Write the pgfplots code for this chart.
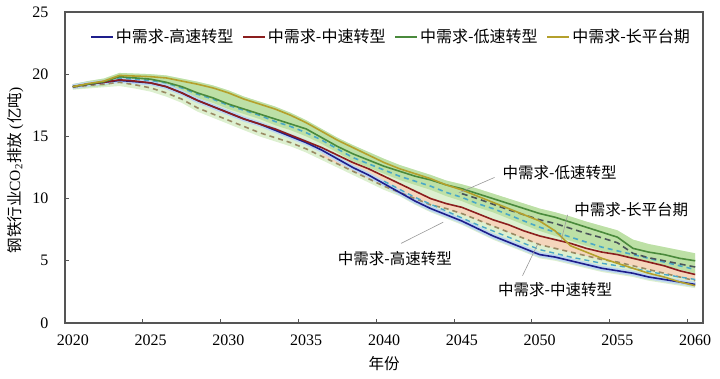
\documentclass[border=0pt]{standalone}
\usepackage{pgfplots}
\pgfplotsset{compat=1.18}
\usepackage{pgfplotstable}
\usepackage{fontspec}
\setmainfont{Liberation Serif}
\newfontfamily\cjk{Noto Sans CJK SC}
\definecolor{cblue}{HTML}{1E1E8C}
\definecolor{cred}{HTML}{8B1E1E}
\definecolor{cgreen}{HTML}{4A8A3C}
\definecolor{colive}{HTML}{B4A02C}
\definecolor{cteal}{HTML}{4AA8C8}
\definecolor{cbrown}{HTML}{9A8A64}
\definecolor{cdark}{HTML}{4A545A}
\definecolor{bandg}{HTML}{BDE0A6}
\definecolor{bandl}{HTML}{DDF0D0}
\definecolor{bands}{HTML}{F5D6BC}
\definecolor{glow}{HTML}{BCD6F0}
\definecolor{frame}{HTML}{555555}

\pgfplotstableread{
year olive green teal red blue brown
2020 19.00 19.00 19.00 19.00 19.00 18.95
2021 19.25 19.20 19.20 19.20 19.20 19.10
2022 19.45 19.40 19.35 19.35 19.35 19.20
2023 19.90 19.80 19.70 19.55 19.50 19.35
2024 19.85 19.70 19.60 19.45 19.40 19.15
2025 19.80 19.60 19.50 19.30 19.30 18.90
2026 19.70 19.35 19.30 19.00 19.00 18.50
2027 19.45 19.00 18.90 18.50 18.50 18.00
2028 19.20 18.50 18.40 17.90 17.90 17.30
2029 18.90 18.10 18.00 17.40 17.40 16.80
2030 18.50 17.60 17.50 16.90 16.90 16.30
2031 18.00 17.20 17.10 16.40 16.40 15.80
2032 17.60 16.80 16.70 16.00 16.00 15.30
2033 17.20 16.40 16.20 15.60 15.50 14.90
2034 16.70 16.00 15.80 15.10 15.00 14.50
2035 16.10 15.60 15.30 14.60 14.50 14.00
2036 15.40 14.90 14.70 14.10 13.90 13.40
2037 14.70 14.20 14.00 13.50 13.20 12.80
2038 14.10 13.60 13.30 12.90 12.50 12.20
2039 13.50 13.10 12.80 12.40 11.90 11.60
2040 12.90 12.60 12.30 11.80 11.20 11.00
2041 12.40 12.20 11.80 11.20 10.50 10.50
2042 12.00 11.80 11.40 10.60 9.80 10.00
2043 11.60 11.50 11.00 10.00 9.20 9.50
2044 11.10 11.10 10.50 9.60 8.70 9.20
2045 10.70 10.80 10.10 9.30 8.20 8.80
2046 10.20 10.40 9.60 8.80 7.60 8.30
2047 9.70 10.00 9.20 8.30 7.00 7.80
2048 9.20 9.60 8.70 7.90 6.50 7.30
2049 8.70 9.20 8.20 7.40 6.00 6.80
2050 8.20 8.80 7.70 7.00 5.50 6.30
2051 7.40 8.50 7.30 6.70 5.30 6.00
2052 6.20 8.10 6.90 6.40 5.00 5.70
2053 5.70 7.70 6.50 6.00 4.70 5.40
2054 5.20 7.30 6.10 5.70 4.40 5.10
2055 4.80 6.90 5.80 5.50 4.20 4.90
2056 4.40 6.00 5.50 5.20 4.00 4.60
2057 4.00 5.70 5.20 4.90 3.70 4.30
2058 3.70 5.50 4.90 4.60 3.50 4.00
2059 3.30 5.20 4.60 4.20 3.30 3.70
2060 3.00 5.00 4.30 3.90 3.10 3.40
}\main

\pgfplotstableread{
year val
2045 10.40
2046 10.00
2047 9.55
2048 9.10
2049 8.70
2050 8.30
2051 8.00
2052 7.60
2053 7.20
2054 6.85
2055 6.45
2056 5.60
2057 5.25
2058 5.00
2059 4.75
2060 4.50
}\updash

\pgfplotstableread{
year val
2040 11.40
2042 10.10
2044 9.00
2046 7.90
2048 6.90
2050 5.90
2052 5.30
2054 4.80
2056 4.40
2058 3.90
2060 3.50
}\lowdash

\begin{document}
\begin{tikzpicture}
\draw[frame, line width=1.2pt] (0pt,0pt) rectangle (638pt,311pt);
\begin{axis}[
  at={(0pt,0pt)}, anchor=south west,
  scale only axis, width=638pt, height=311pt,
  xmin=2019.5, xmax=2060.5, ymin=0, ymax=25,
  xtick={2019.5,2024.5,2029.5,2034.5,2039.5,2044.5,2049.5,2054.5,2059.5},
  xticklabels={2020,2025,2030,2035,2040,2045,2050,2055,2060},
  ytick={0,5,10,15,20,25},
  clip=false,
  tick pos=left, tick align=inside, major tick length=4pt,
  tick style={frame, line width=1pt},
  axis line style={frame, line width=1pt},
  /pgf/number format/assume math mode=true,
  xticklabel style={font=\fontsize{16}{18}\selectfont, xshift=7.8pt, yshift=-8pt},
  yticklabel style={font=\fontsize{16}{18}\selectfont, xshift=-13pt},
  xlabel={\cjk 年份},
  xlabel style={font=\fontsize{15.5}{18}\selectfont, at={(axis description cs:0.5,0)}, anchor=center, yshift=-41pt},
  ylabel={{\cjk 钢铁行业}CO\textsubscript{2}{\cjk 排放} ({\cjk 亿吨})},
  ylabel style={font=\fontsize{15.5}{18}\selectfont, at={(axis description cs:-0.078,0.49)}, anchor=center},
  legend columns=4,
  legend style={draw=none, fill=none, at={(axis description cs:0.511,0.92)}, anchor=center,
    font=\fontsize{16}{18}\selectfont\cjk,
    /tikz/every even column/.append style={column sep=7pt}},
  legend image code/.code={\draw[#1] (0pt,0pt) -- (22pt,0pt);},
]
\addplot[fill=bandl, draw=none, forget plot] coordinates {
(2020,19.20)(2021,19.45)(2022,19.65)(2023,20.10)(2024,20.05)(2025,20.00)(2026,19.90)(2027,19.65)(2028,19.40)(2029,19.10)(2030,18.70)(2031,18.20)(2032,17.80)(2033,17.40)(2034,16.90)(2035,16.30)(2036,15.60)(2037,14.90)(2038,14.30)(2039,13.75)(2040,13.20)(2041,12.70)(2042,12.30)(2043,11.90)(2044,11.45)(2045,11.15)(2046,10.80)(2047,10.40)(2048,10.00)(2049,9.60)(2050,9.20)(2051,8.90)(2052,8.55)(2053,8.15)(2054,7.80)(2055,7.45)(2056,6.70)(2057,6.35)(2058,6.10)(2059,5.85)(2060,5.60)
(2060,2.80)(2059,3.00)(2058,3.20)(2057,3.40)(2056,3.70)(2055,3.90)(2054,4.10)(2053,4.40)(2052,4.70)(2051,5.00)(2050,5.20)(2049,5.70)(2048,6.20)(2047,6.70)(2046,7.30)(2045,7.90)(2044,8.40)(2043,8.90)(2042,9.50)(2041,10.20)(2040,10.70)(2039,11.30)(2038,11.90)(2037,12.50)(2036,13.10)(2035,13.70)(2034,14.20)(2033,14.60)(2032,15.00)(2031,15.50)(2030,16.00)(2029,16.50)(2028,17.00)(2027,17.70)(2026,18.20)(2025,18.60)(2024,18.85)(2023,19.05)(2022,18.95)(2021,18.85)(2020,18.75)
};
\addplot[fill=bandg, draw=none, forget plot] coordinates {
(2020,19.20)(2021,19.45)(2022,19.65)(2023,20.10)(2024,20.05)(2025,20.00)(2026,19.90)(2027,19.65)(2028,19.40)(2029,19.10)(2030,18.70)(2031,18.20)(2032,17.80)(2033,17.40)(2034,16.90)(2035,16.30)(2036,15.60)(2037,14.90)(2038,14.30)(2039,13.75)(2040,13.20)(2041,12.70)(2042,12.30)(2043,11.90)(2044,11.45)(2045,11.15)(2046,10.80)(2047,10.40)(2048,10.00)(2049,9.60)(2050,9.20)(2051,8.90)(2052,8.55)(2053,8.15)(2054,7.80)(2055,7.45)(2056,6.70)(2057,6.35)(2058,6.10)(2059,5.85)(2060,5.60)
(2060,4.00)(2059,4.30)(2058,4.60)(2057,4.90)(2056,5.20)(2055,5.50)(2054,5.80)(2053,6.20)(2052,6.60)(2051,7.00)(2050,7.40)(2049,7.90)(2048,8.40)(2047,8.90)(2046,9.30)(2045,9.80)(2044,10.20)(2043,10.70)(2042,11.10)(2041,11.50)(2040,12.00)(2039,12.50)(2038,13.00)(2037,13.70)(2036,14.40)(2035,15.00)(2034,15.50)(2033,15.90)(2032,16.40)(2031,16.80)(2030,17.20)(2029,17.70)(2028,18.10)(2027,18.60)(2026,19.00)(2025,19.20)(2024,19.30)(2023,19.40)(2022,19.05)(2021,18.95)(2020,18.80)
};
\addplot[fill=bands, draw=none, forget plot] coordinates {
(2036,14.10)(2038,12.90)(2040,11.80)(2042,10.60)(2044,9.60)(2046,8.80)(2048,7.90)(2050,7.00)(2052,6.40)(2054,5.70)(2056,5.20)(2058,4.60)(2060,3.90)
(2060,3.40)(2058,4.00)(2056,4.60)(2054,5.10)(2052,5.70)(2050,6.30)(2048,7.30)(2046,8.30)(2044,9.20)(2042,10.00)(2040,11.00)(2038,12.20)(2036,13.40)
};
\addplot[glow, line width=5pt, forget plot] table[x=year, y=blue] {\main};
\addplot[cbrown, line width=1.6pt, dash pattern=on 5pt off 4pt, forget plot] table[x=year, y=brown] {\main};
\addplot[cteal, line width=1.6pt, dash pattern=on 5pt off 4pt, forget plot] table[x=year, y=teal] {\main};
\addplot[cteal, line width=1.4pt, dash pattern=on 5pt off 4pt, forget plot] table[x=year, y=val] {\lowdash};
\addplot[cdark, line width=1.6pt, dash pattern=on 6pt off 4pt, forget plot] table[x=year, y=val] {\updash};
\addplot[cblue, line width=1.6pt] table[x=year, y=blue] {\main};
\addlegendentry{中需求-高速转型}
\addplot[cred, line width=1.6pt] table[x=year, y=red] {\main};
\addlegendentry{中需求-中速转型}
\addplot[cgreen, line width=1.6pt] table[x=year, y=green] {\main};
\addlegendentry{中需求-低速转型}
\addplot[colive, line width=1.6pt] table[x=year, y=olive] {\main};
\addlegendentry{中需求-长平台期}
\draw[gray!80, line width=0.6pt] (axis cs:2047.1,11.7) -- (axis cs:2044.8,10.45);
\node[font=\fontsize{15.5}{18}\selectfont\cjk, anchor=west] at (axis cs:2047.4,12.1) {中需求-低速转型};
\draw[gray!80, line width=0.6pt] (axis cs:2051.8,8.7) -- (axis cs:2051.4,6.7);
\node[font=\fontsize{15.5}{18}\selectfont\cjk, anchor=west] at (axis cs:2052.0,9.1) {中需求-长平台期};
\draw[gray!80, line width=0.6pt] (axis cs:2041.1,6.4) -- (axis cs:2043.8,8.1);
\node[font=\fontsize{15.5}{18}\selectfont\cjk, anchor=center] at (axis cs:2040.7,5.2) {中需求-高速转型};
\draw[gray!80, line width=0.6pt] (axis cs:2048.9,3.8) -- (axis cs:2049.9,6.4);
\node[font=\fontsize{15.5}{18}\selectfont\cjk, anchor=center] at (axis cs:2051.0,2.65) {中需求-中速转型};
\end{axis}
\draw[frame, line width=1.2pt] (0pt,311pt) -- (638pt,311pt) -- (638pt,0pt);
\path (-65pt,-55pt) rectangle (655pt,323pt);
\end{tikzpicture}
\end{document}
